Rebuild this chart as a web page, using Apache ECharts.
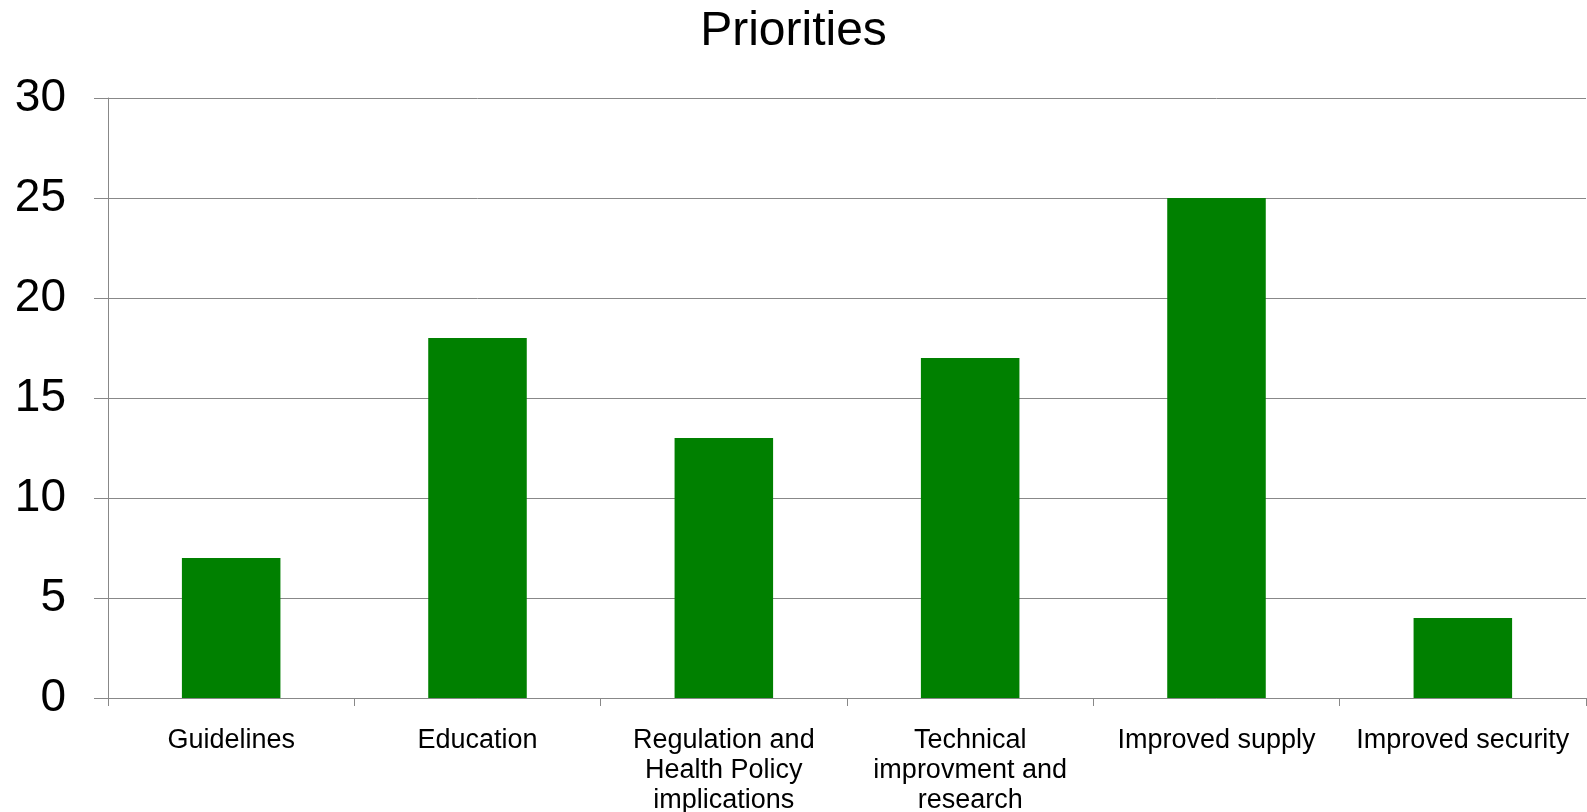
<!DOCTYPE html>
<html>
<head>
<meta charset="utf-8">
<script src="https://cdn.jsdelivr.net/npm/echarts@6/dist/echarts.min.js"></script>
<style>
  html, body { margin: 0; padding: 0; background: #ffffff; }
  #chart { width: 1587px; height: 812px; }
</style>
</head>
<body>
<div id="chart"></div>
<script>
// Priority categories and their counts
const categories = [
  'Guidelines',
  'Education',
  'Regulation and\nHealth Policy\nimplications',
  'Technical\nimprovment and\nresearch',
  'Improved supply',
  'Improved security'
];
const counts = [7, 18, 13, 17, 25, 4];
const titleText = 'Priorities';

const axisGray = '#888888';
const fontFamily = '"Liberation Sans", Arial, sans-serif';

const chart = echarts.init(document.getElementById('chart'), null, { renderer: 'canvas' });
chart.setOption({
  backgroundColor: '#ffffff',
  animation: false,
  title: {
    text: titleText,
    left: 'center',
    top: 3,
    textStyle: { fontFamily, fontSize: 48, fontWeight: 'normal', color: '#000000', lineHeight: 48 }
  },
  grid: { left: 108, right: 1, top: 98, bottom: 114, containLabel: false, outerBoundsMode: 'none' },
  xAxis: {
    type: 'category',
    data: categories,
    boundaryGap: true,
    axisLine: { show: true, lineStyle: { color: axisGray, width: 1 } },
    axisTick: { show: true, length: 8, alignWithLabel: false, lineStyle: { color: axisGray } },
    axisLabel: {
      interval: 0,
      margin: 28,
      fontFamily,
      fontSize: 27,
      lineHeight: 30,
      color: '#000000',
      align: 'center'
    },
    splitLine: { show: false }
  },
  yAxis: {
    type: 'value',
    min: 0,
    max: 30,
    interval: 5,
    axisLine: { show: true, lineStyle: { color: axisGray, width: 1 } },
    axisTick: { show: true, length: 14, lineStyle: { color: axisGray } },
    axisLabel: { fontFamily, fontSize: 46, color: '#000000', margin: 42, padding: [5, 0, 0, 0] },
    splitLine: { show: true, lineStyle: { color: axisGray, width: 1 } }
  },
  series: [{
    type: 'bar',
    data: counts,
    barWidth: '40%',
    itemStyle: { color: '#008000' }
  }]
});
</script>
</body>
</html>
